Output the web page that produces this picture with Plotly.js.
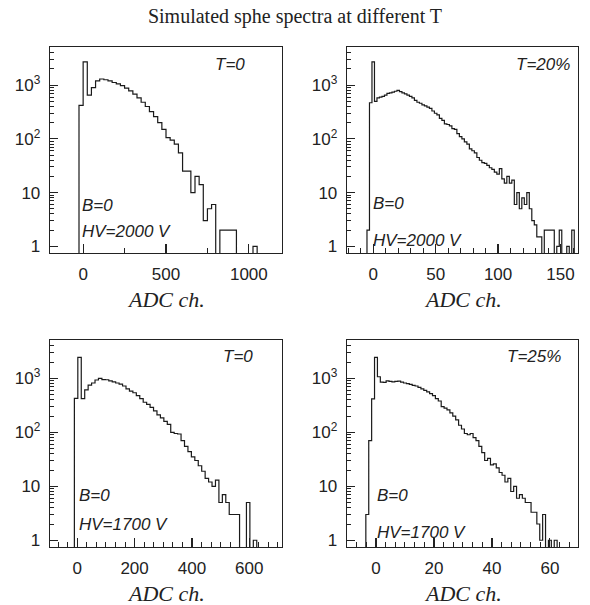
<!DOCTYPE html>
<html><head><meta charset="utf-8">
<script src="https://cdn.plot.ly/plotly-3.0.1.min.js"></script>
<style>html,body{margin:0;padding:0;background:#fff}</style>
</head><body><div id="chart" style="width:590px;height:605px"></div>
<script>
const chartTitle = "Simulated sphe spectra at different T";
const xTitle = "ADC ch.";
const yTickVals = [1, 10, 100, 1000];
const yTickText = ["1", "10", "10<sup>2</sup>", "10<sup>3</sup>"];

// Panel 1: T=0, HV=2000 V
const p1Label = ["T=0", "B=0", "HV=2000 V"];
const p1BinStart = -25, p1BinWidth = 25;
const p1Counts = [420, 2700, 650, 900, 1200, 1300, 1260, 1200, 1120, 1060, 980, 880, 780, 680, 580, 480,
  400, 320, 260, 200, 150, 105, 95, 80, 55, 25, 25, 10, 20, 14, 3, 5, 6, 0, 2, 2, 2, 2, 0, 0, 0, 0, 1, 0];

// Panel 2: T=20%, HV=2000 V
const p2Label = ["T=20%", "B=0", "HV=2000 V"];
const p2BinStart = -5, p2BinWidth = 2;
const p2Counts = [2, 470, 2700, 500, 580, 600, 620, 650, 700, 720, 740, 770, 800, 760, 720, 690, 650, 620,
  580, 520, 480, 460, 430, 410, 390, 370, 330, 300, 280, 240, 220, 190, 185, 175, 155, 150, 125, 110, 100,
  88, 80, 65, 60, 55, 45, 40, 36, 35, 32, 29, 27, 24, 22, 28, 18, 15, 20, 15, 17, 6, 10, 5, 8, 6, 10, 5, 3,
  2.5, 1.5, 1.5, 0, 2, 2, 2, 2, 0, 1, 2, 0, 0, 1, 0, 2, 0];

// Panel 3: T=0, HV=1700 V
const p3Label = ["T=0", "B=0", "HV=1700 V"];
const p3BinStart = -10, p3BinWidth = 12;
const p3Counts = [426, 2450, 420, 610, 750, 820, 930, 1000, 950, 940, 900, 860, 820, 780, 720, 640, 580,
  540, 480, 420, 360, 330, 290, 250, 210, 185, 160, 140, 100, 95, 93, 70, 55, 44, 35, 30, 24, 19, 14, 12,
  10, 13, 5, 7, 5, 3, 3, 3, 0, 0, 5, 0, 1, 0];

// Panel 4: T=25%, HV=1700 V
const p4Label = ["T=25%", "B=0", "HV=1700 V"];
const p4BinStart = -3.5, p4BinWidth = 1;
const p4Counts = [3, 70, 415, 2450, 1070, 850, 840, 900, 880, 860, 880, 890, 850, 820, 800, 770, 740, 720,
  680, 640, 600, 560, 520, 480, 420, 380, 300, 280, 260, 230, 200, 170, 135, 115, 95, 90, 95, 80, 70, 55,
  42, 30, 33, 25, 26, 22, 18, 16, 12, 14, 8, 10, 6, 7, 6, 5, 5, 3.3, 3.3, 2, 1, 3, 0, 1, 0, 1];

const FLOOR = 0.1;
function stepTrace(start, width, counts, xa, ya) {
  const x = [start], y = [FLOOR];
  counts.forEach((c, i) => { x.push(start + i * width); y.push(c > 0 ? c : FLOOR); });
  const end = start + counts.length * width;
  const last = counts[counts.length - 1];
  x.push(end); y.push(last > 0 ? last : FLOOR);
  x.push(end); y.push(FLOOR);
  return {x, y, xaxis: xa, yaxis: ya, type: 'scatter', mode: 'lines',
    line: {shape: 'hv', color: '#1a1a1a', width: 1.2}, hoverinfo: 'skip', showlegend: false};
}

const data = [
  stepTrace(p1BinStart, p1BinWidth, p1Counts, 'x', 'y'),
  stepTrace(p2BinStart, p2BinWidth, p2Counts, 'x2', 'y2'),
  stepTrace(p3BinStart, p3BinWidth, p3Counts, 'x3', 'y3'),
  stepTrace(p4BinStart, p4BinWidth, p4Counts, 'x4', 'y4')
];

const tickFont = {family: 'Liberation Sans, Arial, sans-serif', size: 17, color: '#222'};
const minorY = [];
for (let d = 1; d <= 1000; d *= 10) for (let k = 2; k <= 9; k++) minorY.push(k * d);

function xAxis(domain, range, dtick, minorDtick) {
  return {domain, range, type: 'linear', showline: true, linecolor: '#222', linewidth: 1.3, mirror: true,
    ticks: 'inside', ticklen: 9, tickwidth: 1.2, tickcolor: '#222', dtick, tick0: 0,
    minor: {ticks: 'inside', ticklen: 5, tickwidth: 1, tickcolor: '#222', dtick: minorDtick, tick0: 0},
    showgrid: false, zeroline: false, tickfont: tickFont, ticklabelstandoff: 5, fixedrange: true};
}
function yAxis(domain, anchor) {
  return {domain, anchor, type: 'log', range: [-0.125, 3.71], showline: true, linecolor: '#222',
    linewidth: 1.3, mirror: true, ticks: 'inside', ticklen: 8, tickwidth: 1.2, tickcolor: '#222',
    tickmode: 'array', tickvals: yTickVals, ticktext: yTickText,
    minor: {ticks: 'inside', ticklen: 4, tickwidth: 1, tickcolor: '#222', tickmode: 'array', tickvals: minorY},
    showgrid: false, zeroline: false, tickfont: tickFont, ticklabelstandoff: 5, fixedrange: true};
}

const xl = [50 / 590, 282 / 590], xr = [347 / 590, 578 / 590];
const yt = [1 - 253 / 605, 1 - 47 / 605], yb = [1 - 547 / 605, 1 - 340 / 605];

const annFont = {family: 'Liberation Sans, Arial, sans-serif', size: 17, color: '#222'};
const annotations = [];
function panelText(xa, ya, labels, tPos, bPos, hPos) {
  const xr_ = xa + ' domain', yr_ = ya + ' domain';
  annotations.push({text: '<i>' + labels[0] + '</i>', xref: xr_, yref: yr_, x: tPos[0], y: tPos[1],
    xanchor: 'right', yanchor: 'middle', showarrow: false, font: annFont});
  annotations.push({text: '<i>' + labels[1] + '</i>', xref: xr_, yref: yr_, x: bPos[0], y: bPos[1],
    xanchor: 'left', yanchor: 'middle', showarrow: false, font: annFont});
  annotations.push({text: '<i>' + labels[2] + '</i>', xref: xr_, yref: yr_, x: hPos[0], y: hPos[1],
    xanchor: 'left', yanchor: 'middle', showarrow: false, font: annFont});
  annotations.push({text: '<i>' + xTitle + '</i>', xref: xr_, yref: yr_, x: 0.5, y: 0, yshift: -46,
    xanchor: 'center', yanchor: 'middle', showarrow: false,
    font: {family: 'Liberation Serif, Times New Roman, serif', size: 22, color: '#222'}});
}
panelText('x', 'y', p1Label, [0.85, 0.913], [0.13, 0.233], [0.13, 0.102]);
panelText('x2', 'y2', p2Label, [0.975, 0.913], [0.105, 0.238], [0.105, 0.063]);
panelText('x3', 'y3', p3Label, [0.885, 0.918], [0.115, 0.248], [0.115, 0.111]);
panelText('x4', 'y4', p4Label, [0.935, 0.918], [0.12, 0.248], [0.12, 0.068]);

const layout = {
  width: 590, height: 605, margin: {l: 0, r: 0, t: 0, b: 0},
  paper_bgcolor: '#fff', plot_bgcolor: '#fff', showlegend: false,
  title: {text: chartTitle, x: 0.5, xanchor: 'center', y: 1 - 16 / 605, yanchor: 'middle', yref: 'container',
    font: {family: 'Liberation Serif, Times New Roman, serif', size: 20, color: '#222'}},
  xaxis: Object.assign(xAxis(xl, [-200, 1200], 500, 250), {anchor: 'y'}),
  xaxis2: Object.assign(xAxis(xr, [-21, 164], 50, 10), {anchor: 'y2'}),
  xaxis3: Object.assign(xAxis(xl, [-95, 714], 200, 100 / 3), {anchor: 'y3'}),
  xaxis4: Object.assign(xAxis(xr, [-10, 69.7], 20, 10 / 3), {anchor: 'y4'}),
  yaxis: yAxis(yt, 'x'), yaxis2: yAxis(yt, 'x2'), yaxis3: yAxis(yb, 'x3'), yaxis4: yAxis(yb, 'x4'),
  annotations
};
Plotly.newPlot('chart', data, layout, {displayModeBar: false, staticPlot: true});
</script></body></html>
